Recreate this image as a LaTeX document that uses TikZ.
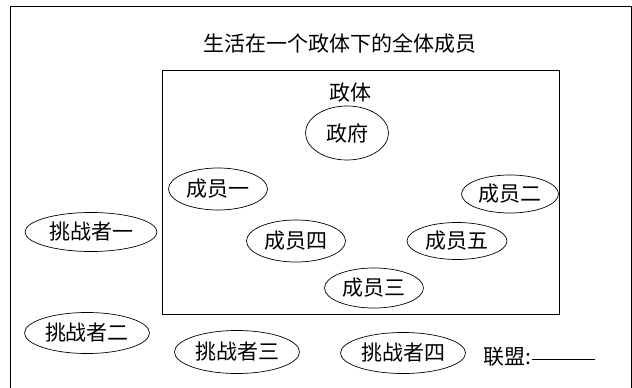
\documentclass[tikz,border=0pt]{standalone}
\usepackage{fontspec}
\setmainfont{Noto Sans CJK SC}
\usetikzlibrary{shapes.geometric}
\tikzset{
	member/.style={draw,ellipse,inner sep=0pt,minimum width=99pt,minimum height=40pt},
	challenger/.style={draw,ellipse,inner sep=0pt,minimum width=125pt,minimum height=41pt},
}
\begin{document}
\begin{tikzpicture}[x=1pt,y=-1pt,line width=.7pt,font=\fontsize{21}{25}\selectfont]
			\useasboundingbox (0,0) rectangle (632,388);
			%outer frame and polity box
			\draw (10,388)--(10,6)--(631,6)--(631,388);
			\draw (162,70) rectangle (559,314);
			\node (all) at (340,43)[]{生活在一个政体下的全体成员};
			\node (polity) at (350,93)[]{政体};
			\node (gov) at (347,133)[draw,ellipse,minimum width=83pt,minimum height=54pt,inner sep=0pt]{政府};
			%members
			\node (m1) at (218,189)[member,minimum height=42pt]{成员一};
			\node (m2) at (510,194)[member,minimum width=97pt,minimum height=38pt]{成员二};
			\node (m3) at (374,288)[member]{成员三};
			\node (m4) at (296,241)[member,minimum height=42pt]{成员四};
			\node (m5) at (457,241)[member,minimum width=100pt,minimum height=37pt]{成员五};
			%challengers
			\node (c1) at (91,232)[challenger,minimum width=132pt,minimum height=39pt]{挑战者一};
			\node (c2) at (87,333)[challenger]{挑战者二};
			\node (c3) at (237,352)[challenger,minimum height=43pt]{挑战者三};
			\node (c4) at (403,353)[challenger]{挑战者四};
			%legend
			\node (lm) at (483,357)[anchor=west,inner sep=0pt]{联盟:};
			\coordinate (lmend) at (595,359);
			\draw (lm.east|-lmend)--(lmend);
		\end{tikzpicture}
\end{document}
